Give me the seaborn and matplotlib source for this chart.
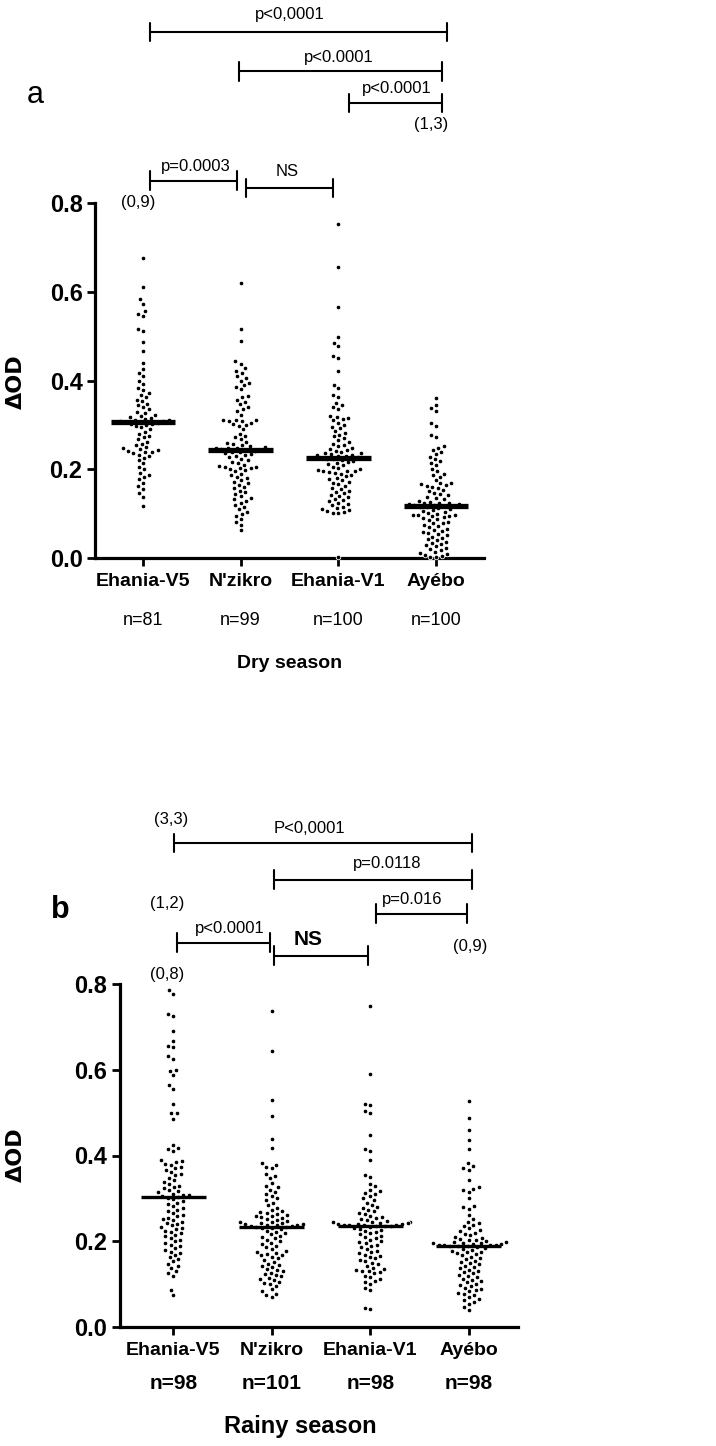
import numpy as np
import pandas as pd
import seaborn as sns
import matplotlib.pyplot as plt

sites = ["Ehania-V5", "N'zikro", "Ehania-V1", "Ayébo"]

# Dry season values
dry_v5 = [0.675, 0.61, 0.583, 0.572, 0.556, 0.55, 0.545, 0.517, 0.511, 0.487, 0.467, 0.44,
          0.426, 0.418, 0.41, 0.40, 0.392, 0.383, 0.378, 0.372, 0.367, 0.362, 0.357, 0.353,
          0.348, 0.345, 0.34, 0.335, 0.33, 0.327, 0.323, 0.32, 0.317, 0.315, 0.313, 0.311,
          0.31, 0.309, 0.308, 0.307, 0.306, 0.305, 0.303, 0.302, 0.30, 0.298, 0.295, 0.29,
          0.285, 0.28, 0.276, 0.272, 0.268, 0.262, 0.258, 0.254, 0.25, 0.247, 0.245, 0.243,
          0.241, 0.24, 0.238, 0.236, 0.233, 0.23, 0.226, 0.22, 0.213, 0.205, 0.2, 0.192,
          0.187, 0.183, 0.178, 0.17, 0.163, 0.156, 0.147, 0.138, 0.118]
dry_nz = [0.619, 0.515, 0.49, 0.443, 0.438, 0.428, 0.422, 0.418, 0.41, 0.405, 0.4, 0.395,
          0.39, 0.386, 0.38, 0.366, 0.362, 0.357, 0.352, 0.347, 0.34, 0.336, 0.332, 0.322,
          0.312, 0.311, 0.31, 0.309, 0.308, 0.305, 0.302, 0.3, 0.298, 0.29, 0.28, 0.276,
          0.272, 0.268, 0.262, 0.26, 0.257, 0.254, 0.252, 0.25, 0.249, 0.248, 0.247, 0.245,
          0.244, 0.243, 0.242, 0.24, 0.238, 0.236, 0.234, 0.232, 0.23, 0.227, 0.224, 0.22,
          0.217, 0.213, 0.21, 0.207, 0.205, 0.204, 0.203, 0.202, 0.2, 0.198, 0.195, 0.19,
          0.187, 0.183, 0.18, 0.176, 0.172, 0.168, 0.165, 0.16, 0.157, 0.152, 0.148, 0.144,
          0.14, 0.135, 0.132, 0.129, 0.125, 0.12, 0.115, 0.11, 0.104, 0.1, 0.095, 0.088,
          0.082, 0.075, 0.062]
dry_v1 = [0.753, 0.655, 0.566, 0.497, 0.485, 0.478, 0.456, 0.451, 0.422, 0.39, 0.383, 0.367,
          0.362, 0.35, 0.345, 0.34, 0.335, 0.32, 0.318, 0.316, 0.313, 0.31, 0.305, 0.3,
          0.296, 0.292, 0.286, 0.282, 0.278, 0.274, 0.27, 0.266, 0.262, 0.258, 0.255, 0.252,
          0.249, 0.246, 0.243, 0.241, 0.239, 0.237, 0.236, 0.234, 0.233, 0.231, 0.23, 0.229,
          0.227, 0.226, 0.224, 0.223, 0.221, 0.219, 0.217, 0.215, 0.212, 0.209, 0.206, 0.203,
          0.2, 0.198, 0.197, 0.196, 0.195, 0.194, 0.192, 0.19, 0.187, 0.184, 0.181, 0.178,
          0.175, 0.172, 0.17, 0.166, 0.162, 0.158, 0.155, 0.152, 0.149, 0.146, 0.143, 0.14,
          0.137, 0.134, 0.131, 0.128, 0.125, 0.122, 0.119, 0.116, 0.113, 0.11, 0.108, 0.106,
          0.104, 0.102, 0.101, 0.002]
dry_ay = [0.361, 0.345, 0.338, 0.332, 0.305, 0.298, 0.278, 0.272, 0.252, 0.248, 0.244, 0.238,
          0.234, 0.228, 0.222, 0.218, 0.214, 0.21, 0.2, 0.195, 0.19, 0.186, 0.182, 0.175,
          0.17, 0.168, 0.166, 0.164, 0.162, 0.16, 0.157, 0.154, 0.15, 0.147, 0.144, 0.141,
          0.138, 0.135, 0.132, 0.129, 0.127, 0.125, 0.124, 0.123, 0.122, 0.121, 0.12, 0.119,
          0.118, 0.117, 0.116, 0.114, 0.112, 0.11, 0.108, 0.106, 0.104, 0.102, 0.1, 0.098,
          0.097, 0.096, 0.095, 0.094, 0.092, 0.09, 0.087, 0.085, 0.082, 0.08, 0.078, 0.075,
          0.072, 0.069, 0.066, 0.063, 0.06, 0.058, 0.056, 0.053, 0.051, 0.048, 0.045, 0.042,
          0.04, 0.037, 0.034, 0.032, 0.029, 0.026, 0.023, 0.02, 0.017, 0.014, 0.011, 0.008,
          0.006, 0.004, 0.003, 0.002]

# Rainy season values
rainy_v5 = [0.786, 0.777, 0.73, 0.725, 0.69, 0.668, 0.655, 0.652, 0.632, 0.625, 0.6, 0.598,
            0.587, 0.564, 0.556, 0.521, 0.5, 0.498, 0.486, 0.424, 0.418, 0.414, 0.41, 0.39,
            0.387, 0.384, 0.381, 0.378, 0.374, 0.37, 0.366, 0.362, 0.358, 0.354, 0.348, 0.342,
            0.338, 0.334, 0.33, 0.327, 0.324, 0.32, 0.317, 0.314, 0.311, 0.309, 0.307, 0.305,
            0.304, 0.302, 0.298, 0.294, 0.29, 0.286, 0.282, 0.278, 0.274, 0.27, 0.266, 0.262,
            0.258, 0.255, 0.252, 0.249, 0.246, 0.243, 0.24, 0.237, 0.234, 0.231, 0.228, 0.225,
            0.222, 0.219, 0.215, 0.212, 0.208, 0.204, 0.2, 0.196, 0.192, 0.188, 0.184, 0.18,
            0.176, 0.172, 0.168, 0.163, 0.158, 0.153, 0.148, 0.143, 0.137, 0.131, 0.126, 0.12,
            0.086, 0.074]
rainy_nz = [0.736, 0.644, 0.53, 0.491, 0.438, 0.418, 0.382, 0.378, 0.374, 0.37, 0.358, 0.352,
            0.348, 0.336, 0.33, 0.326, 0.32, 0.315, 0.31, 0.305, 0.3, 0.296, 0.29, 0.284,
            0.278, 0.274, 0.27, 0.268, 0.266, 0.264, 0.262, 0.26, 0.258, 0.256, 0.255, 0.252,
            0.25, 0.248, 0.246, 0.244, 0.243, 0.242, 0.241, 0.24, 0.239, 0.238, 0.237, 0.236,
            0.235, 0.234, 0.233, 0.232, 0.23, 0.228, 0.225, 0.222, 0.219, 0.216, 0.213, 0.21,
            0.207, 0.204, 0.2, 0.197, 0.194, 0.19, 0.186, 0.182, 0.178, 0.175, 0.173, 0.171,
            0.169, 0.167, 0.164, 0.16, 0.156, 0.152, 0.148, 0.145, 0.142, 0.139, 0.136, 0.133,
            0.13, 0.127, 0.124, 0.121, 0.118, 0.115, 0.112, 0.109, 0.106, 0.103, 0.1, 0.095,
            0.088, 0.083, 0.078, 0.074, 0.071]
rainy_v1 = [0.749, 0.589, 0.521, 0.517, 0.504, 0.5, 0.447, 0.416, 0.411, 0.389, 0.354, 0.35,
            0.334, 0.328, 0.32, 0.317, 0.313, 0.31, 0.305, 0.3, 0.296, 0.29, 0.284, 0.28,
            0.277, 0.274, 0.27, 0.266, 0.263, 0.26, 0.257, 0.254, 0.252, 0.25, 0.248, 0.246,
            0.245, 0.244, 0.243, 0.242, 0.241, 0.24, 0.2395, 0.239, 0.238, 0.2375, 0.237, 0.2365,
            0.236, 0.235, 0.233, 0.231, 0.229, 0.227, 0.225, 0.222, 0.219, 0.216, 0.213, 0.21,
            0.207, 0.204, 0.2, 0.198, 0.195, 0.192, 0.19, 0.186, 0.182, 0.178, 0.175, 0.172,
            0.169, 0.166, 0.163, 0.16, 0.157, 0.154, 0.15, 0.146, 0.142, 0.138, 0.135, 0.133,
            0.131, 0.13, 0.128, 0.125, 0.12, 0.116, 0.112, 0.108, 0.105, 0.1, 0.09, 0.086,
            0.045, 0.042]
rainy_ay = [0.527, 0.488, 0.459, 0.435, 0.416, 0.383, 0.375, 0.37, 0.366, 0.344, 0.327, 0.323,
            0.319, 0.315, 0.3, 0.282, 0.279, 0.276, 0.262, 0.253, 0.245, 0.242, 0.238, 0.235,
            0.23, 0.226, 0.223, 0.22, 0.217, 0.214, 0.211, 0.208, 0.206, 0.204, 0.202, 0.2,
            0.199, 0.198, 0.197, 0.196, 0.195, 0.194, 0.193, 0.192, 0.1915, 0.191, 0.1905, 0.19,
            0.1895, 0.188, 0.186, 0.184, 0.182, 0.18, 0.178, 0.176, 0.174, 0.172, 0.17, 0.167,
            0.164, 0.161, 0.158, 0.155, 0.152, 0.149, 0.146, 0.143, 0.14, 0.137, 0.134, 0.131,
            0.128, 0.125, 0.122, 0.119, 0.116, 0.113, 0.11, 0.107, 0.104, 0.101, 0.098, 0.095,
            0.092, 0.089, 0.086, 0.083, 0.08, 0.077, 0.074, 0.07, 0.066, 0.062, 0.058, 0.054,
            0.047, 0.04]

dry_medians = [0.306, 0.243, 0.225, 0.117]
rainy_medians = [0.303, 0.233, 0.236, 0.189]
dry_n = ["n=81", "n=99", "n=100", "n=100"]
rainy_n = ["n=98", "n=101", "n=98", "n=98"]
yticks = [0.0, 0.2, 0.4, 0.6, 0.8]

# brackets: (x0, x1, y, label, text x, text y)
dry_brackets = [(0.07, 3.11, 1.185, "p<0,0001", 1.50, 1.224),
                (0.98, 3.06, 1.097, "p<0.0001", 2.00, 1.129),
                (2.11, 3.06, 1.025, "p<0.0001", 2.60, 1.059),
                (0.07, 0.96, 0.850, "p=0.0003", 0.54, 0.883),
                (1.05, 1.95, 0.834, "NS", 1.48, 0.872)]
dry_notes = [("(1,3)", 2.95, 0.978), ("(0,9)", -0.05, 0.800)]
rainy_brackets = [(0.01, 3.03, 1.129, "P<0,0001", 1.38, 1.162),
                  (1.02, 3.03, 1.043, "p=0.0118", 2.17, 1.080),
                  (2.06, 2.98, 0.964, "p=0.016", 2.43, 0.996),
                  (0.04, 0.98, 0.896, "p<0.0001", 0.57, 0.929),
                  (1.02, 1.98, 0.866, "NS", 1.37, 0.903)]
rainy_notes = [("(3,3)", -0.02, 1.183), ("(1,2)", -0.06, 0.987),
               ("(0,9)", 3.01, 0.887), ("(0,8)", -0.06, 0.821)]

sns.set_style("ticks")
NARROW = ["Liberation Sans Narrow", "Liberation Sans", "DejaVu Sans"]
plt.rcParams["font.family"] = NARROW
for key in ["text.color", "axes.labelcolor", "xtick.color", "ytick.color", "axes.edgecolor"]:
    plt.rcParams[key] = "black"

W, H = 716, 1446
fig = plt.figure(figsize=(W / 100, H / 100), dpi=100)


def fig_axes(x0, x1, y_bottom, y_top):
    return fig.add_axes([x0 / W, 1 - y_bottom / H, (x1 - x0) / W, (y_bottom - y_top) / H])


def panel(ax, groups, medians, xlim, med_lw):
    df = pd.DataFrame({"site": np.repeat(sites, [len(g) for g in groups]),
                       "od": np.concatenate(groups)})
    # white edge keeps a small gap between neighbouring dots, like the original
    sns.swarmplot(data=df, x="site", y="od", order=sites, color="black", size=3.3,
                  linewidth=0.6, edgecolor="white", ax=ax, clip_on=False, zorder=3)
    ax.hlines(medians, np.arange(4) - 0.33, np.arange(4) + 0.33, color="black",
              lw=med_lw, zorder=4)
    ax.set_xlim(*xlim)
    ax.set_ylim(0, 0.8)
    ax.set_yticks(yticks)
    ax.set_yticklabels([f"{t:.1f}" for t in yticks], fontsize=17, fontweight="bold")
    ax.set_xticks(range(4))
    ax.set_xticklabels(sites, fontsize=14, fontweight="bold")
    ax.set_xlabel("")
    ax.set_ylabel("")
    sns.despine(ax=ax)
    for s in ["left", "bottom"]:
        ax.spines[s].set_linewidth(2.3)
    ax.tick_params(axis="both", width=2.0, length=6, pad=3)
    ax.tick_params(axis="x", pad=5)
    ax.patch.set_alpha(0)


def brackets(ax, items, notes, h, ns_bold=False):
    for x0, x1, y, lab, tx, ty in items:
        ax.plot([x0, x1], [y, y], color="black", lw=1.5, clip_on=False)
        for xx in (x0, x1):
            ax.plot([xx, xx], [y - h, y + h], color="black", lw=1.5, clip_on=False)
        bold = ns_bold and lab == "NS"
        ax.text(tx, ty, lab, ha="center", va="center", clip_on=False,
                fontsize=15 if bold else 12, fontweight="bold" if bold else "normal")
    for lab, tx, ty in notes:
        ax.text(tx, ty, lab, ha="center", va="center", fontsize=12, clip_on=False)


# panel a: dry season
ax1 = fig_axes(95, 484, 558, 203)
panel(ax1, [dry_v5, dry_nz, dry_v1, dry_ay], dry_medians, (-0.49, 3.49), 3.8)
brackets(ax1, dry_brackets, dry_notes, 0.021)
for i, n in enumerate(dry_n):
    ax1.text(i, -0.14, n, ha="center", va="center", fontsize=13,
             family=["Liberation Sans", "DejaVu Sans"], clip_on=False)
fig.text(290 / W, 1 - 664 / H, "Dry season", ha="center", va="center", fontsize=14,
         fontweight="bold", family=["Liberation Sans", "DejaVu Sans"])
fig.text(35 / W, 1 - 95 / H, "a", ha="center", va="center", fontsize=22,
         family=["Liberation Sans", "DejaVu Sans"])
fig.text(16 / W, 1 - 382 / H, "ΔOD", ha="center", va="center", rotation=90,
         fontsize=16, fontweight="bold", family=["DejaVu Sans"])

# panel b: rainy season
ax2 = fig_axes(120, 518, 1327, 984)
panel(ax2, [rainy_v5, rainy_nz, rainy_v1, rainy_ay], rainy_medians, (-0.54, 3.50), 2.4)
brackets(ax2, rainy_brackets, rainy_notes, 0.022, ns_bold=True)
for i, n in enumerate(rainy_n):
    ax2.text(i, -0.131, n, ha="center", va="center", fontsize=15, fontweight="bold",
             clip_on=False)
fig.text(300 / W, 1 - 1427 / H, "Rainy season", ha="center", va="center", fontsize=17,
         fontweight="bold")
fig.text(60 / W, 1 - 910 / H, "b", ha="center", va="center", fontsize=22,
         fontweight="bold", family=["Liberation Sans", "DejaVu Sans"])
fig.text(16 / W, 1 - 1155 / H, "ΔOD", ha="center", va="center", rotation=90,
         fontsize=16, fontweight="bold", family=["DejaVu Sans"])

fig.savefig("out.png", dpi=100)
